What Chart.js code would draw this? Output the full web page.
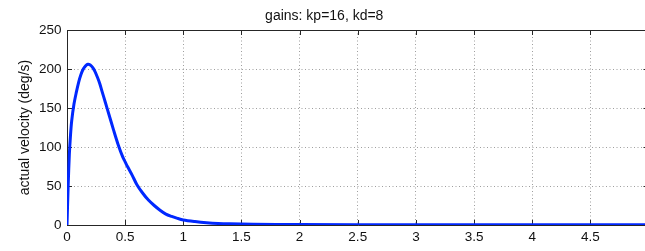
<!DOCTYPE html>
<html>
<head>
<meta charset="utf-8">
<script src="https://cdn.jsdelivr.net/npm/chart.js@4/dist/chart.umd.min.js"></script>
<style>
  html, body { margin: 0; padding: 0; background: #fff; overflow: hidden; }
  #wrap { position: relative; width: 660px; height: 272px; }
</style>
</head>
<body>
<div id="wrap"><canvas id="chart"></canvas></div>
<script>
var timeSec = [0, 0.01, 0.02, 0.03, 0.04, 0.06, 0.08, 0.1, 0.12, 0.14, 0.16, 0.18, 0.2, 0.22, 0.24, 0.26, 0.28, 0.3,
               0.33, 0.36, 0.4, 0.44, 0.48, 0.5, 0.52, 0.56, 0.6, 0.65, 0.7, 0.75, 0.8, 0.85, 0.9, 0.95, 1.0,
               1.1, 1.2, 1.3, 1.4, 1.6, 2, 3, 4, 5];
var velocity = [0, 50, 90, 115, 133, 155, 170, 183, 193, 200, 204, 206, 205, 202, 197, 190, 182, 172,
                157, 142, 122, 103, 87, 81, 75, 64, 52, 41, 32, 25, 19, 14, 11, 8.5, 6.5,
                4.5, 3, 2, 1.5, 1, 0.5, 0.3, 0.2, 0.2];
var xTicks = [0, 0.5, 1, 1.5, 2, 2.5, 3, 3.5, 4, 4.5, 5];
var yTicks = [0, 50, 100, 150, 200, 250];

var points = timeSec.map(function (t, i) { return { x: t, y: velocity[i] }; });

var FONT = 'Liberation Sans, Arial, sans-serif';

// matlab-style box with inward tick marks
var boxPlugin = {
  id: 'boxTicks',
  beforeDatasetsDraw: function (chart) {
    var ctx = chart.ctx, a = chart.chartArea;
    var xs = chart.scales.x, ys = chart.scales.y;
    ctx.save();
    ctx.strokeStyle = '#262626';
    ctx.lineWidth = 1;
    ctx.beginPath();
    ctx.rect(a.left + 0.5, a.top + 0.5, a.right - a.left, a.bottom - a.top);
    xTicks.forEach(function (v) {
      var px = Math.round(xs.getPixelForValue(v)) + 0.5;
      ctx.moveTo(px, a.bottom); ctx.lineTo(px, a.bottom - 5);
      ctx.moveTo(px, a.top); ctx.lineTo(px, a.top + 5);
    });
    yTicks.forEach(function (v) {
      var py = Math.round(ys.getPixelForValue(v)) + 0.5;
      ctx.moveTo(a.left, py); ctx.lineTo(a.left + 5, py);
      ctx.moveTo(a.right, py); ctx.lineTo(a.right - 5, py);
    });
    ctx.stroke();
    ctx.restore();
  }
};

var gridOpts = { color: 'rgba(0,0,0,0.38)', lineWidth: 1, drawTicks: false, borderDash: [1, 2.5] };
var borderOpts = { display: false, dash: [1, 2.5] };
var plainLabel = function (v) { return String(v); };

new Chart(document.getElementById('chart'), {
  type: 'line',
  data: {
    datasets: [{
      data: points,
      borderColor: 'rgb(0,40,255)',
      borderWidth: 3,
      pointRadius: 0,
      tension: 0.3,
      fill: false
    }]
  },
  options: {
    responsive: true,
    maintainAspectRatio: false,
    animation: false,
    layout: { padding: { left: 0, right: 11.5, top: 0, bottom: 0 } },
    plugins: {
      legend: { display: false },
      tooltip: { enabled: false },
      title: {
        display: true,
        text: 'gains: kp=16, kd=8',
        color: '#111',
        font: { family: FONT, size: 14, weight: 'normal' },
        padding: { top: 7.6, bottom: 5.6 }
      }
    },
    scales: {
      x: {
        type: 'linear',
        min: 0, max: 5,
        afterBuildTicks: function (s) { s.ticks = xTicks.map(function (v) { return { value: v }; }); },
        afterFit: function (s) { s.height = 47; },
        grid: gridOpts,
        border: borderOpts,
        ticks: {
          padding: 4.5,
          color: '#111',
          maxRotation: 0,
          callback: plainLabel,
          font: { family: FONT, size: 13.5 }
        },
        title: {
          display: true,
          text: 'time (s)',
          color: '#111',
          font: { family: FONT, size: 14 },
          padding: { top: 0, bottom: 4.4 }
        }
      },
      y: {
        min: 0, max: 250,
        afterBuildTicks: function (s) { s.ticks = yTicks.map(function (v) { return { value: v }; }); },
        afterFit: function (s) { s.width = 67; },
        grid: gridOpts,
        border: borderOpts,
        ticks: {
          padding: 5.5,
          color: '#111',
          callback: plainLabel,
          font: { family: FONT, size: 13.5 }
        },
        title: {
          display: true,
          text: 'actual velocity (deg/s)',
          color: '#111',
          font: { family: FONT, size: 14 },
          padding: { top: 16.6, bottom: 0 }
        }
      }
    }
  },
  plugins: [boxPlugin]
});
</script>
</body>
</html>
